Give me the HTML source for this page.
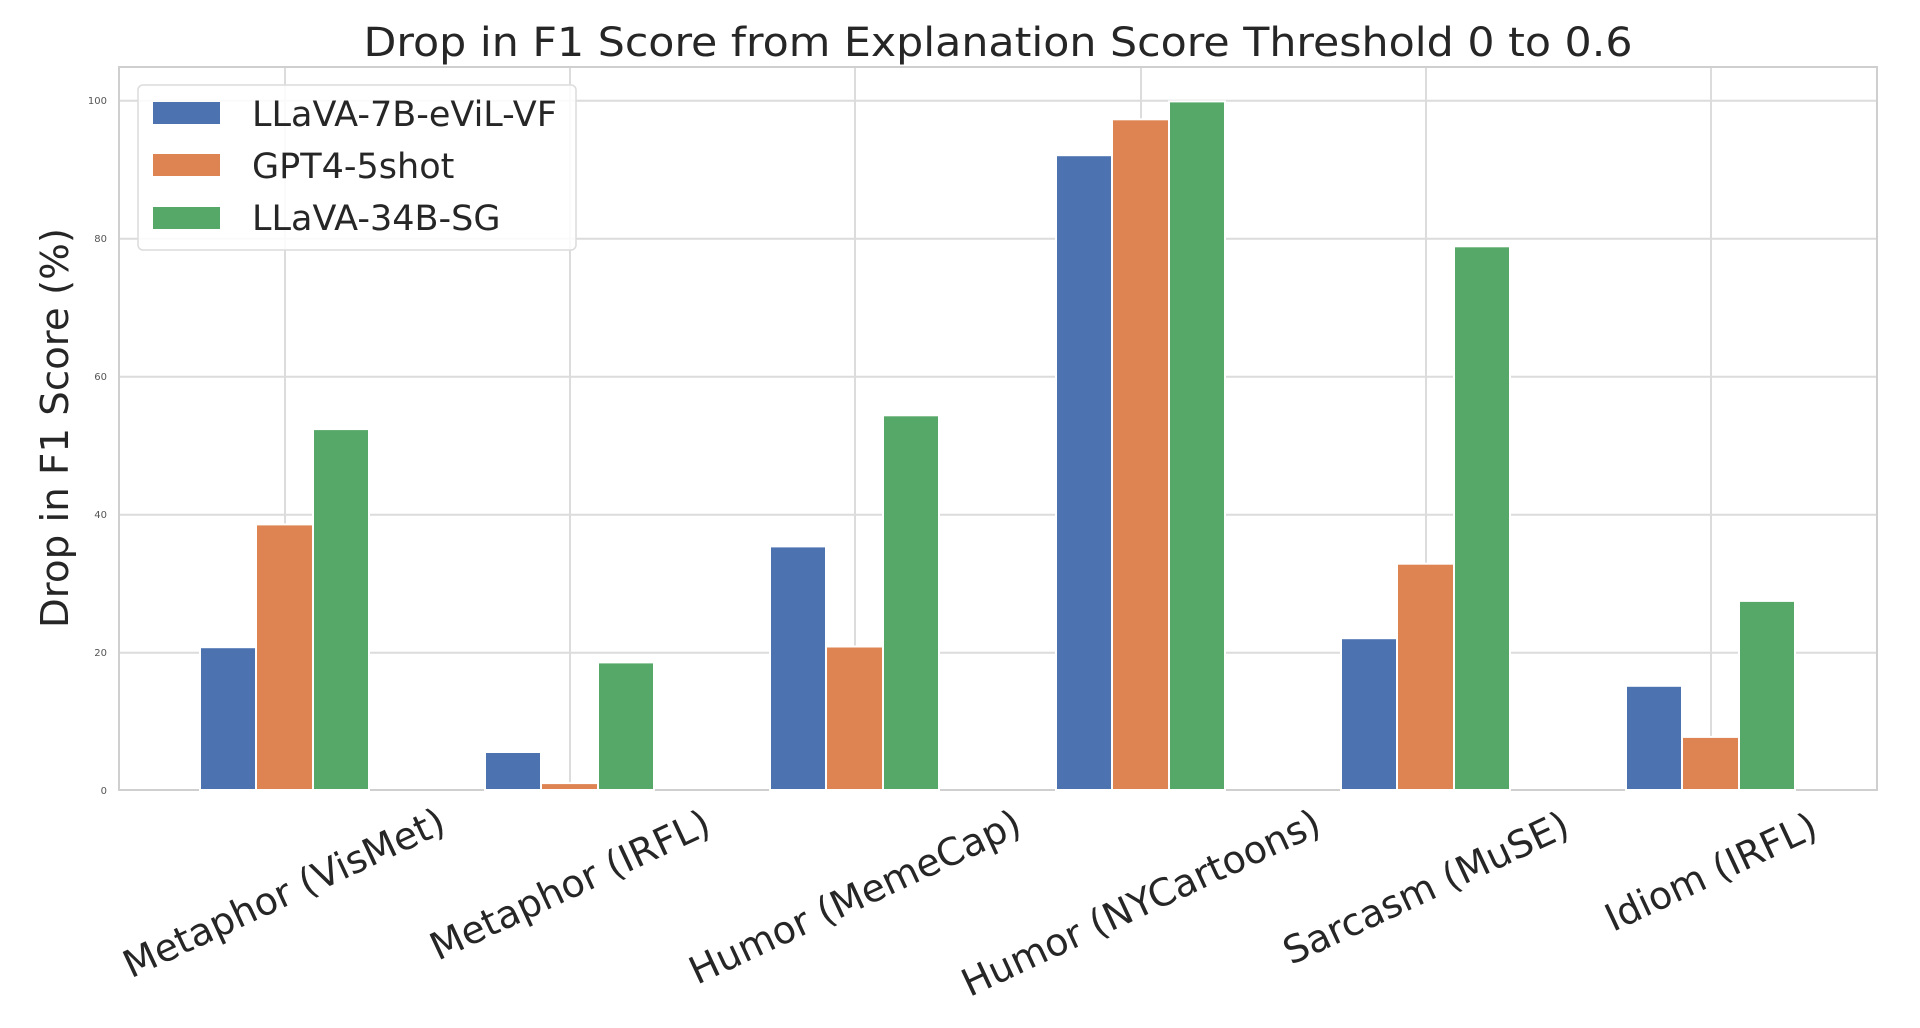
<!DOCTYPE html>
<html><head><meta charset="utf-8"><style>html,body{margin:0;padding:0;background:#fff;}svg{display:block;}</style></head>
<body>
<svg width="1920" height="1028" viewBox="0 0 1920 1028" xmlns="http://www.w3.org/2000/svg" font-family="'DejaVu Sans','Liberation Sans',sans-serif">
<rect width="1920" height="1028" fill="#fff"/>
<g stroke="#dcdcdc" stroke-width="2">
<line x1="119" y1="100.7" x2="1877" y2="100.7"/>
<line x1="119" y1="238.7" x2="1877" y2="238.7"/>
<line x1="119" y1="376.7" x2="1877" y2="376.7"/>
<line x1="119" y1="514.7" x2="1877" y2="514.7"/>
<line x1="119" y1="652.7" x2="1877" y2="652.7"/>
<line x1="285" y1="67" x2="285" y2="790"/>
<line x1="570" y1="67" x2="570" y2="790"/>
<line x1="855" y1="67" x2="855" y2="790"/>
<line x1="1141" y1="67" x2="1141" y2="790"/>
<line x1="1426" y1="67" x2="1426" y2="790"/>
<line x1="1711" y1="67" x2="1711" y2="790"/>
</g>
<rect x="119" y="67" width="1758" height="723" fill="none" stroke="#cfcfcf" stroke-width="2"/>
<g font-size="10" fill="#555" text-anchor="end">
<text x="107" y="104">100</text><text x="107" y="242">80</text><text x="107" y="380">60</text><text x="107" y="518">40</text><text x="107" y="656">20</text><text x="107" y="794">0</text>
</g>
<g stroke="#fff" stroke-width="2">
<rect x="200" y="647.2" width="56" height="142.8" fill="#4c72b0"/>
<rect x="256" y="524.4" width="57" height="265.6" fill="#dd8452"/>
<rect x="313" y="429.1" width="56" height="360.9" fill="#55a868"/>

<rect x="485" y="752" width="56" height="38" fill="#4c72b0"/>
<rect x="541" y="783.1" width="57" height="6.9" fill="#dd8452"/>
<rect x="598" y="662.4" width="56" height="127.6" fill="#55a868"/>

<rect x="770" y="546.4" width="56" height="243.6" fill="#4c72b0"/>
<rect x="826" y="646.5" width="57" height="143.5" fill="#dd8452"/>
<rect x="883" y="415.3" width="56" height="374.7" fill="#55a868"/>

<rect x="1056" y="155.2" width="56" height="634.8" fill="#4c72b0"/>
<rect x="1112" y="119.3" width="57" height="670.7" fill="#dd8452"/>
<rect x="1169" y="101.4" width="56" height="688.6" fill="#55a868"/>

<rect x="1341" y="638.2" width="56" height="151.8" fill="#4c72b0"/>
<rect x="1397" y="563.7" width="57" height="226.3" fill="#dd8452"/>
<rect x="1454" y="246.3" width="56" height="543.7" fill="#55a868"/>

<rect x="1626" y="685.8" width="56" height="104.2" fill="#4c72b0"/>
<rect x="1682" y="736.9" width="57" height="53.1" fill="#dd8452"/>
<rect x="1739" y="600.9" width="56" height="189.1" fill="#55a868"/>
</g>
<text x="998" y="56" font-size="40" fill="#262626" text-anchor="middle" textLength="1269" lengthAdjust="spacingAndGlyphs">Drop in F1 Score from Explanation Score Threshold 0 to 0.6</text>
<text transform="translate(68,428) rotate(-90)" font-size="38" fill="#262626" text-anchor="middle" textLength="400" lengthAdjust="spacingAndGlyphs">Drop in F1 Score (%)</text>
<rect x="138" y="85" width="438" height="165" rx="5" fill="#fff" fill-opacity="0.85" stroke="#dcdcdc" stroke-width="1.5"/>
<rect x="153" y="102" width="67" height="22" fill="#4c72b0"/>
<rect x="153" y="154" width="67" height="22" fill="#dd8452"/>
<rect x="153" y="207" width="67" height="22" fill="#55a868"/>
<g font-size="35" fill="#262626">
<text x="252" y="126">LLaVA-7B-eViL-VF</text>
<text x="252" y="178">GPT4-5shot</text>
<text x="252" y="230">LLaVA-34B-SG</text>
</g>
<g font-size="38" fill="#262626" text-anchor="middle" dominant-baseline="central">
<text transform="translate(284,893) rotate(-25)">Metaphor (VisMet)</text>
<text transform="translate(570,885) rotate(-25)">Metaphor (IRFL)</text>
<text transform="translate(855,897) rotate(-25)">Humor (MemeCap)</text>
<text transform="translate(1141,903) rotate(-25)">Humor (NYCartoons)</text>
<text transform="translate(1426,888) rotate(-25)">Sarcasm (MuSE)</text>
<text transform="translate(1711,872) rotate(-25)">Idiom (IRFL)</text>
</g>
</svg>
</body></html>
